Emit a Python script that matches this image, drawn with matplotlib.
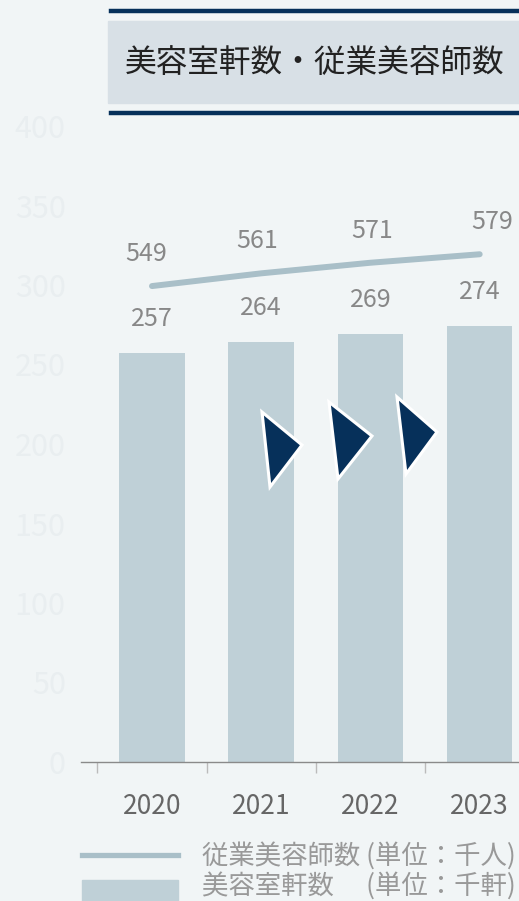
import matplotlib.pyplot as plt
from matplotlib.patches import Rectangle, Polygon
from matplotlib.lines import Line2D

plt.rcParams['font.family'] = ['Noto Sans CJK JP', 'DejaVu Sans']

years = ["2020", "2021", "2022", "2023"]
salons = [257, 264, 269, 274]          # 美容室軒数 (千軒)
stylists = [549, 561, 571, 579]        # 従業美容師数 (千人)
yticks = [0, 50, 100, 150, 200, 250, 300, 350, 400]

bg = "#f1f5f6"
bar_c = "#bfd0d7"
line_c = "#a9bfc8"
navy = "#06305a"

W, H = 519, 901
fig = plt.figure(figsize=(W / 100, H / 100), dpi=100, facecolor=bg)


def fx(px):
    return px / W


def fy(py):
    return 1 - py / H


ax = fig.add_axes([fx(81), fy(762), 1 - fx(81), fy(126) - fy(762)])
ax.set_facecolor(bg)
x = list(range(len(years)))

ax.bar(x, salons, width=0.6, color=bar_c, zorder=2)
ax.set_ylim(0, 400)
ax.set_yticks(yticks)
ax.set_yticklabels([str(v) for v in yticks], fontsize=22, color="#e9eef0")
ax.tick_params(axis="y", length=0, pad=11)

ax.set_xticks(x)
ax.set_xticklabels(years, fontsize=19, color="#666666")
ax.tick_params(axis="x", which="major", length=0, pad=22)
ax.set_xticks([i - 0.5 for i in range(len(years) + 1)], minor=True)
ax.tick_params(axis="x", which="minor", length=8, width=1, color="#bbbbbb")

for s in ["left", "right", "top"]:
    ax.spines[s].set_visible(False)
ax.spines["bottom"].set_color("#8a8a8a")
ax.spines["bottom"].set_linewidth(1)

for xi, v in zip(x, salons):
    ax.annotate(str(v), (xi, v), xytext=(0, 25), textcoords="offset points",
                ha="center", va="center", fontsize=18, color="#888888")

# stylists on a hidden secondary scale
ax2 = ax.twinx()
ax2.set_ylim(100, 700)
ax2.axis("off")
ax2.plot(x, stylists, color=line_c, lw=4.3, solid_capstyle="round", zorder=3)
label_dx = [-4, -3, 1, 9]
for xi, v, dx in zip(x, stylists, label_dx):
    ax2.annotate(str(v), (xi, v), xytext=(dx, 23), textcoords="offset points",
                 ha="center", va="center", fontsize=18, color="#888888")
ax.set_xlim(-0.65, 3.36)

# growth arrows
tris = [
    [(262, 412), (302, 445), (270, 487)],
    [(329, 402), (372, 436), (338, 479)],
    [(397, 397), (437, 432), (406, 474)],
]
for t in tris:
    fig.patches.append(Polygon([(fx(a), fy(b)) for a, b in t], closed=True,
                               transform=fig.transFigure, facecolor=navy,
                               edgecolor="white", lw=2.2, zorder=5))

# title block
fig.patches.append(Rectangle((fx(108), fy(103)), 1 - fx(108), fy(21) - fy(103),
                             transform=fig.transFigure, color="#d8e0e6", zorder=1))
for yy in (11, 113):
    fig.lines.append(Line2D([fx(111), 1], [fy(yy), fy(yy)], transform=fig.transFigure,
                            color=navy, lw=3.2))
fig.text(fx(125), fy(63), "美容室軒数・従業美容師数", fontsize=22.8, color="#222222",
         ha="left", va="center")

# legend
fig.lines.append(Line2D([fx(82), fx(178)], [fy(855), fy(855)], transform=fig.transFigure,
                        color=line_c, lw=3.8))
fig.patches.append(Rectangle((fx(82), 0), fx(178) - fx(82), fy(880),
                             transform=fig.transFigure, color=bar_c))
fig.text(fx(202), fy(856), "従業美容師数 (単位：千人)", fontsize=19, color="#999999",
         ha="left", va="center")
fig.text(fx(202), fy(886), "美容室軒数　 (単位：千軒)", fontsize=19, color="#999999",
         ha="left", va="center")

fig.savefig("out.png", dpi=100, facecolor=bg)
